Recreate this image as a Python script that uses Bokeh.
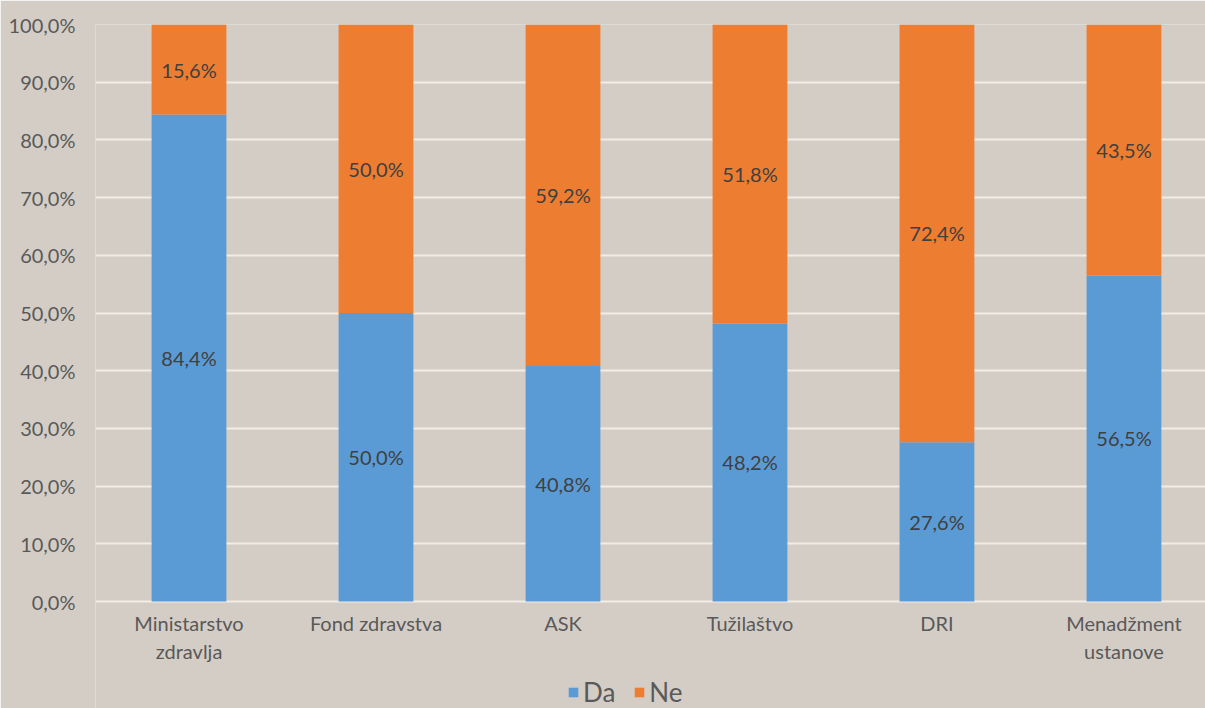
from bokeh.plotting import figure
from bokeh.models import ColumnDataSource, Range1d, FixedTicker, Legend, LegendItem
from bokeh.core.properties import value
from bokeh.embed import file_html
from bokeh.resources import INLINE

categories = ["Ministarstvo\nzdravlja", "Fond zdravstva", "ASK", "Tužilaštvo", "DRI", "Menadžment\nustanove"]
da = [84.4, 50.0, 40.8, 48.2, 27.6, 56.5]
ne = [15.6, 50.0, 59.2, 51.8, 72.4, 43.5]
y_ticks = [0, 10, 20, 30, 40, 50, 60, 70, 80, 90, 100]
series_names = ["Da", "Ne"]

FONT = "Lato"
BG = "#d4cdc6"
TXT = "#595959"
BLUE = "#5b9bd5"
ORANGE = "#ed7d31"
GRID = "#f1ede6"

xs = list(range(len(categories)))
src = ColumnDataSource(dict(
    x=xs,
    cat=categories,
    da_top=da,
    ne_bottom=da,
    ne_top=[a + b for a, b in zip(da, ne)],
    da_mid=[a / 2 for a in da],
    ne_mid=[a + b / 2 for a, b in zip(da, ne)],
    da_lbl=[f"{v:.1f}%".replace(".", ",") for v in da],
    ne_lbl=[f"{v:.1f}%".replace(".", ",") for v in ne],
))

W, H = 1205, 708
TOP, ZERO = 24, 601
px_per_unit = (ZERO - TOP) / 100.0
y_low = -(H - ZERO) / px_per_unit

p = figure(width=W, height=H, output_backend="svg", toolbar_location=None,
           x_range=Range1d(-0.5, 5.436), y_range=Range1d(y_low, 100),
           min_border_left=95, min_border_right=0, min_border_top=TOP, min_border_bottom=0)
p.background_fill_color = BG
p.border_fill_color = BG
p.outline_line_color = None

r_da = p.vbar(x="x", width=0.4, bottom=0, top="da_top", source=src, fill_color=BLUE, line_color=None)
r_ne = p.vbar(x="x", width=0.4, bottom="ne_bottom", top="ne_top", source=src, fill_color=ORANGE, line_color=None)

p.text(x="x", y="da_mid", text="da_lbl", source=src, text_align="center", text_baseline="middle",
       text_font=value(FONT), text_font_size="20px", text_color="#404040")
p.text(x="x", y="ne_mid", text="ne_lbl", source=src, text_align="center", text_baseline="middle",
       text_font=value(FONT), text_font_size="20px", text_color="#404040")

# category labels below the baseline
p.text(x="x", y=-9 / px_per_unit, text="cat", source=src, text_align="center", text_baseline="top",
       text_font=value(FONT), text_font_size="20px", text_color=TXT, text_line_height=1.17)

p.xaxis.visible = False
p.yaxis.ticker = FixedTicker(ticks=y_ticks)
p.yaxis.major_label_overrides = {t: f"{t:.1f}%".replace(".", ",") for t in y_ticks}
p.yaxis.major_label_text_font = FONT
p.yaxis.major_label_text_font_size = "20px"
p.yaxis.major_label_text_color = TXT
p.yaxis.major_tick_line_color = None
p.yaxis.minor_tick_line_color = None
p.yaxis.axis_line_color = None
p.yaxis.major_label_standoff = 14

p.xgrid.grid_line_color = None
p.ygrid.ticker = FixedTicker(ticks=y_ticks)
p.ygrid.grid_line_color = GRID
p.ygrid.grid_line_width = 2

legend = Legend(items=[LegendItem(label=series_names[0], renderers=[r_da]),
                       LegendItem(label=series_names[1], renderers=[r_ne])],
                orientation="horizontal", location=(472, 0),
                label_text_font=FONT, label_text_font_size="26px", label_text_color=TXT,
                label_height=16, glyph_width=12, glyph_height=12, spacing=18, label_standoff=4,
                background_fill_alpha=0, border_line_color=None, padding=0, margin=0)
p.add_layout(legend, "center")

open("out.html", "w").write(file_html(p, INLINE))
